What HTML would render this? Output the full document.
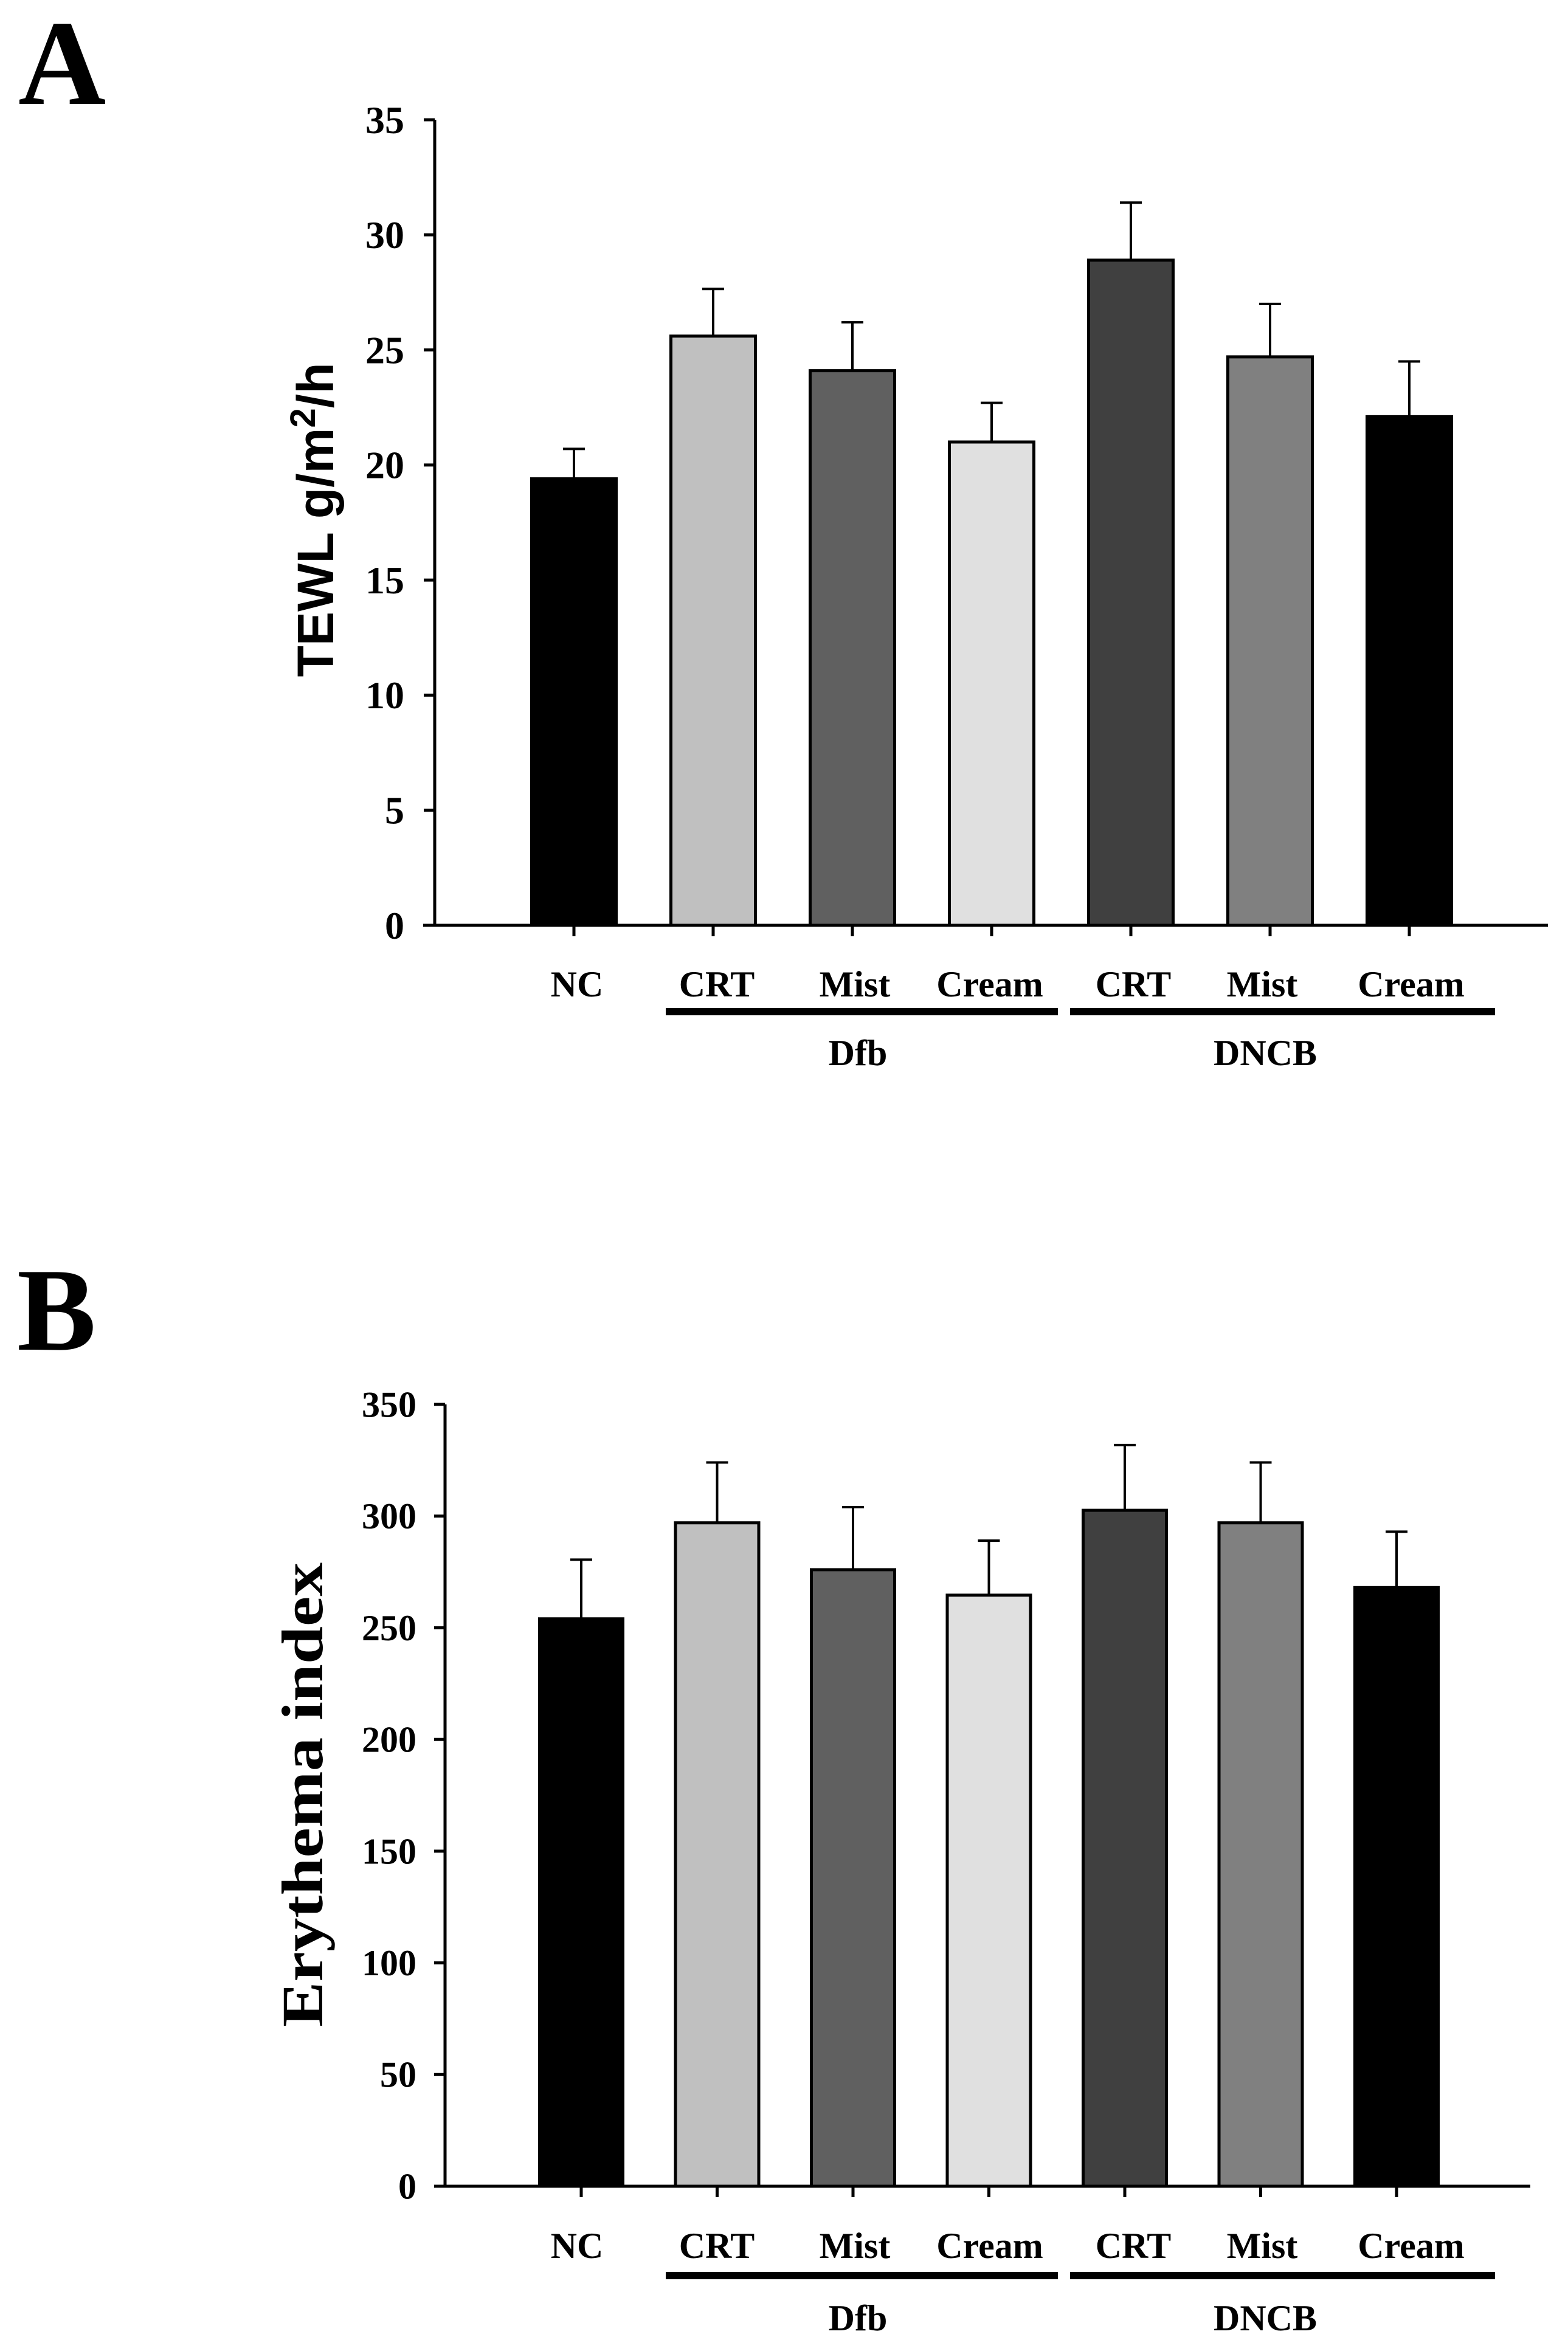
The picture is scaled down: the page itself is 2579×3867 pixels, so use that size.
<!DOCTYPE html>
<html><head><meta charset="utf-8"><style>
html,body{margin:0;padding:0;background:#fff;}
svg{display:block;}
</style></head><body>
<svg id="fig" width="2579" height="3867" viewBox="0 0 2579 3867" xmlns="http://www.w3.org/2000/svg">
<rect width="2579" height="3867" fill="#fff"/>
<text x="30" y="171" font-family="Liberation Serif, serif" font-weight="bold" font-size="200">A</text>
<text x="28" y="2220" font-family="Liberation Serif, serif" font-weight="bold" font-size="195">B</text>
<text transform="translate(548,855) rotate(-90)" text-anchor="middle" font-family="Liberation Sans, sans-serif" font-weight="bold" font-size="84" textLength="517" lengthAdjust="spacingAndGlyphs">TEWL g/m<tspan font-size="58" dy="-30">2</tspan><tspan dy="30">/h</tspan></text>
<text transform="translate(530,2952) rotate(-90)" text-anchor="middle" font-family="Liberation Serif, serif" font-weight="bold" font-size="96" textLength="764" lengthAdjust="spacingAndGlyphs">Erythema index</text>
<g id="chartA"></g>
<g id="chartB"></g>
</svg>
<script>
const categories = ["NC","CRT","Mist","Cream","CRT","Mist","Cream"];
const groups = ["Dfb","DNCB"];
const tewlMeans = [19.4, 25.6, 24.1, 21.0, 28.9, 24.7, 22.1];
const tewlErrors = [1.3, 2.05, 2.1, 1.7, 2.5, 2.3, 2.4];
const tewlTicks = [0,5,10,15,20,25,30,35];
const eryMeans = [254, 297, 276, 264.6, 302.6, 297, 268];
const eryErrors = [26.5, 27, 28, 24.4, 29.2, 27, 25];
const eryTicks = [0,50,100,150,200,250,300,350];
const barColors = ["#000000","#c0c0c0","#606060","#e0e0e0","#404040","#808080","#000000"];

const NS = "http://www.w3.org/2000/svg";
function mk(parent, tag, attrs, txt){
  const e = document.createElementNS(NS, tag);
  for (const k in attrs) e.setAttribute(k, attrs[k]);
  if (txt !== undefined) e.textContent = txt;
  parent.appendChild(e);
  return e;
}
function drawChart(g, cfg, means, errors, ticks, key){
  const yScale = v => cfg.y0 - (v - ticks[0]) / (ticks[ticks.length-1] - ticks[0]) * (cfg.y0 - cfg.yTop);
  const xScale = i => cfg.x0 + i * cfg.step;
  const ya = mk(g, "line", {x1:cfg.axX, y1:cfg.yTop, x2:cfg.axX, y2:cfg.y0+2, stroke:"#000","stroke-width":5});
  
  
  ticks.forEach(t => {
    const y = yScale(t);
    const tk = mk(g, "line", {x1:cfg.axX-18, y1:y, x2:cfg.axX, y2:y, stroke:"#000","stroke-width":5});
    
    
    const tl = mk(g, "text", {x:cfg.labRight, y:y+cfg.tickFont*0.34, "text-anchor":"end","font-family":"Liberation Serif, serif","font-weight":"bold","font-size":cfg.tickFont}, String(t));
    
    
  });
  means.forEach((m, i) => {
    const cx = xScale(i), yt = yScale(m), ye = yScale(m + errors[i]);
    const eb = mk(g, "line", {x1:cx, y1:yt, x2:cx, y2:ye, stroke:"#000","stroke-width":4});
    
    
    const ec = mk(g, "line", {x1:cx-18, y1:ye, x2:cx+18, y2:ye, stroke:"#000","stroke-width":4});
    
    
    const r = mk(g, "rect", {x:cx-cfg.bw/2, y:yt, width:cfg.bw, height:cfg.y0-yt, fill:barColors[i], stroke:"#000","stroke-width":5});
    
    
    const xt = mk(g, "line", {x1:cx, y1:cfg.y0, x2:cx, y2:cfg.y0+18, stroke:"#000","stroke-width":5});
    
    
    const cl = mk(g, "text", {x:cfg.labX[i], y:cfg.catY, "text-anchor":"middle","font-family":"Liberation Serif, serif","font-weight":"bold","font-size":60}, categories[i]);
    
    
  });
  const xa = mk(g, "line", {x1:cfg.axStart, y1:cfg.y0, x2:cfg.axEnd, y2:cfg.y0, stroke:"#000","stroke-width":5});
  
  
  const gl = [[1095,1740],[1760,2459]];
  const gx = [1411, 2081];
  groups.forEach((gn, j) => {
    const l = mk(g, "line", {x1:gl[j][0], y1:cfg.groupY, x2:gl[j][1], y2:cfg.groupY, stroke:"#000","stroke-width":12});
    
    
    const t = mk(g, "text", {x:gx[j], y:cfg.groupLabY, "text-anchor":"middle","font-family":"Liberation Serif, serif","font-weight":"bold","font-size":60}, gn);
    
    
  });
}
const labX = [949, 1179, 1406, 1628, 1864, 2076, 2321];
drawChart(document.getElementById("chartA"), {
  y0:1522, yTop:197, axX:715, x0:944, step:229, bw:139, labRight:665, tickFont:64,
  axStart:696, axEnd:2546, catY:1639, groupY:1664, groupLabY:1752, labX:labX
}, tewlMeans, tewlErrors, tewlTicks, "a");
drawChart(document.getElementById("chartB"), {
  y0:3596, yTop:2310, axX:732, x0:956, step:223.5, bw:137, labRight:685, tickFont:60,
  axStart:714, axEnd:2517, catY:3714, groupY:3743, groupLabY:3833, labX:labX
}, eryMeans, eryErrors, eryTicks, "b");
</script>
</body></html>
